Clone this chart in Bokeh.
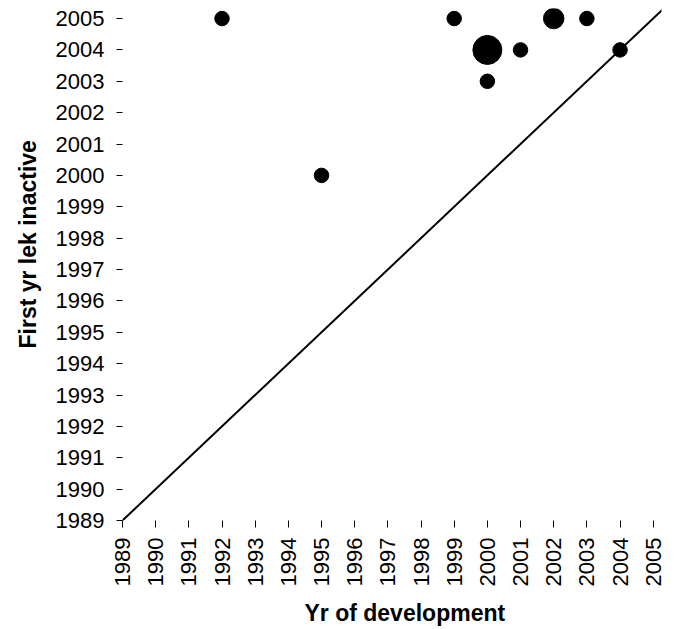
import math
from bokeh.plotting import figure
from bokeh.models import FixedTicker, Title, Slope, Range1d, ColumnDataSource
from bokeh.embed import file_html
from bokeh.resources import INLINE

# Data
yr_development = [1992, 1995, 1999, 2000, 2000, 2001, 2002, 2003, 2004]
first_yr_inactive = [2005, 2000, 2005, 2004, 2003, 2004, 2005, 2005, 2004]
lek_count = [1, 1, 1, 4, 1, 1, 2, 1, 1]
year_ticks = list(range(1989, 2006))

FONT = "Liberation Sans"

src = ColumnDataSource(dict(
    x=yr_development,
    y=first_yr_inactive,
    s=[14.5 * math.sqrt(c) for c in lek_count],
))

p = figure(
    frame_width=539, frame_height=512,
    x_range=Range1d(1989, 2005.25), y_range=Range1d(1989, 2005.32),
    output_backend="svg", toolbar_location=None,
    min_border_left=122, min_border_right=5, min_border_top=8, min_border_bottom=101,
)
p.outline_line_color = None
p.grid.visible = False
p.background_fill_color = "white"
p.border_fill_color = "white"

# diagonal 1:1 line
p.add_layout(Slope(gradient=1, y_intercept=0, line_color="black", line_width=2))

p.scatter("x", "y", size="s", source=src, fill_color="black", line_color="black")

for ax in (p.xaxis[0], p.yaxis[0]):
    ax.ticker = FixedTicker(ticks=year_ticks)
    ax.axis_line_color = None
    ax.minor_tick_line_color = None
    ax.major_tick_in = 0
    ax.major_tick_line_color = "black"
    ax.major_tick_line_width = 1
    ax.major_label_text_font = FONT
    ax.major_label_text_font_size = "22px"
    ax.major_label_text_color = "black"

p.yaxis[0].major_tick_out = 6
p.yaxis[0].major_label_standoff = 12
p.xaxis[0].major_tick_out = 7
p.xaxis[0].major_label_standoff = 10
p.xaxis[0].major_label_orientation = math.pi / 2

p.add_layout(Title(text="Yr of development", align="left", offset=182, standoff=16,
                   text_font=FONT, text_font_size="23px", text_font_style="bold",
                   text_color="black"), "below")
p.add_layout(Title(text="First yr lek inactive", align="left", offset=172, standoff=20,
                   vertical_align="top",
                   text_font=FONT, text_font_size="23px", text_font_style="bold",
                   text_color="black"), "left")

open("out.html", "w").write(file_html(p, INLINE))
